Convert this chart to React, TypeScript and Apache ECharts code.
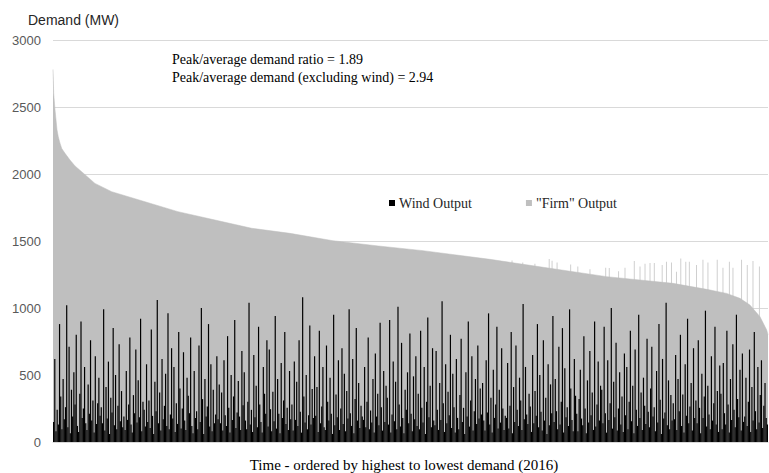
import React, { useEffect, useRef } from "react";
import * as echarts from "echarts";

// Total demand (MW): [percent of hours, MW]
const demandCurve: [number, number][] = [
  [0, 2780], [0.1, 2600], [0.28, 2480], [0.56, 2330], [0.74, 2278], [0.98, 2230],
  [1.22, 2191], [1.68, 2154], [2.38, 2104], [3.08, 2060],
  [4.01, 2017], [5.87, 1930], [8.21, 1868], [12.87, 1793], [17.48, 1719],
  [22.2, 1662], [27.79, 1595], [33.15, 1557], [39.16, 1502], [45.5, 1463], [51.75, 1428],
  [61.12, 1363], [68.8, 1302], [77.44, 1234], [86.71, 1184], [91.43, 1139],
  [94.22, 1109], [96.08, 1072], [97.48, 1022], [98.88, 935], [99.82, 836], [100, 800],
];

// Isolated "firm" hours that stand above the sorted curve: [percent of hours, MW]
const firmSpikes: [number, number][] = [
  [64.2, 1355], [65.7, 1340], [67.4, 1330], [69.4, 1365], [69.8, 1352], [70.5, 1340],
  [72.4, 1325], [73.4, 1310], [75.1, 1290], [77.3, 1300], [77.8, 1298], [79.1, 1275],
  [80.0, 1300], [81.3, 1350], [82.1, 1310], [82.8, 1330], [83.5, 1335], [84.1, 1335],
  [85.2, 1320], [85.8, 1345], [86.5, 1340], [87.2, 1270], [87.8, 1370], [88.5, 1345],
  [89.0, 1345], [90.0, 1320], [90.9, 1360], [91.6, 1340], [92.9, 1360], [93.7, 1300],
  [94.6, 1345], [95.1, 1300], [96.3, 1360], [97.1, 1320], [97.9, 1350], [98.8, 1310],
];

// Wind output (MW) per sampled hour, in order of decreasing demand
const windOutput: number[] = [
  150, 620, 80, 240, 130, 880, 340, 95, 470, 170, 260, 1020, 110, 710, 65, 390, 190, 520, 280, 800,
  120, 75, 360, 900, 180, 250, 560, 140, 90, 430, 210, 760, 160, 310, 70, 640, 135, 290, 480, 195,
  260, 140, 990, 85, 410, 175, 600, 60, 330, 220, 850, 125, 500, 95, 270, 730, 155, 380, 110, 190,
  90, 530, 165, 280, 780, 130, 70, 350, 215, 690, 145, 460, 185, 920, 80, 300, 240, 115, 580, 150,
  310, 105, 840, 195, 60, 450, 230, 1060, 140, 370, 85, 620, 170, 270, 510, 120, 960, 95, 205, 700,
  175, 560, 75, 290, 135, 820, 400, 100, 250, 670, 160, 90, 480, 345, 215, 780, 120, 65, 530, 180,
  230, 95, 720, 150, 1000, 320, 60, 470, 190, 265, 880, 115, 580, 80, 390, 140, 205, 640, 170, 430,
  140, 370, 85, 610, 200, 120, 790, 255, 70, 500, 165, 340, 910, 105, 220, 455, 190, 90, 680, 275,
  520, 160, 95, 300, 1040, 130, 240, 75, 650, 185, 420, 110, 860, 280, 150, 70, 560, 360, 210, 760,
  115, 690, 245, 80, 375, 155, 940, 100, 470, 210, 65, 590, 180, 310, 820, 135, 255, 90, 530, 170,
  280, 85, 600, 165, 450, 120, 760, 225, 70, 1080, 340, 145, 500, 95, 200, 870, 130, 395, 180, 640,
  195, 410, 75, 830, 140, 265, 560, 110, 90, 720, 300, 160, 480, 210, 60, 950, 125, 355, 185, 610,
  90, 250, 700, 135, 510, 80, 380, 175, 990, 215, 120, 620, 65, 320, 850, 160, 440, 105, 270, 190,
  165, 560, 110, 300, 780, 95, 235, 145, 470, 70, 660, 190, 360, 125, 890, 260, 85, 530, 150, 420,
  330, 130, 910, 70, 205, 600, 155, 450, 95, 1010, 280, 115, 740, 180, 65, 390, 240, 520, 140, 810,
  210, 80, 490, 170, 640, 120, 360, 95, 830, 255, 145, 560, 60, 300, 930, 185, 420, 110, 700, 160,
  125, 680, 240, 90, 440, 165, 1050, 290, 75, 580, 140, 375, 200, 800, 105, 510, 260, 70, 620, 180,
  95, 350, 770, 150, 255, 60, 520, 190, 900, 115, 310, 640, 85, 230, 470, 135, 720, 175, 400, 205,
  440, 160, 85, 610, 220, 960, 130, 330, 70, 540, 180, 280, 860, 100, 390, 145, 700, 250, 90, 195,
  180, 590, 100, 270, 820, 65, 410, 150, 720, 240, 120, 480, 310, 90, 1030, 170, 560, 205, 135, 360,
  265, 75, 650, 140, 380, 195, 880, 110, 500, 225, 85, 760, 160, 330, 60, 580, 125, 430, 215, 940,
  150, 470, 230, 95, 710, 130, 300, 850, 70, 550, 185, 260, 120, 990, 400, 165, 80, 620, 345, 210,
  80, 320, 540, 175, 125, 790, 250, 65, 460, 145, 680, 200, 370, 90, 900, 115, 280, 600, 160, 420,
  390, 140, 860, 215, 70, 610, 165, 290, 1000, 100, 450, 185, 740, 85, 250, 520, 130, 340, 75, 660,
  200, 560, 95, 300, 830, 155, 420, 65, 690, 240, 120, 950, 180, 370, 90, 480, 270, 135, 770, 225,
  110, 400, 710, 190, 260, 80, 530, 145, 880, 315, 60, 620, 175, 220, 1040, 125, 460, 95, 350, 160,
  290, 170, 650, 90, 470, 230, 800, 120, 355, 70, 580, 195, 920, 140, 265, 440, 85, 700, 180, 310,
  140, 760, 255, 65, 510, 180, 340, 980, 115, 420, 205, 95, 640, 160, 290, 860, 130, 380, 75, 570,
  360, 95, 590, 215, 130, 830, 280, 70, 470, 165, 730, 240, 110, 950, 320, 185, 540, 85, 660, 150,
  190, 480, 120, 300, 690, 75, 410, 160, 820, 230, 95, 560, 145, 350, 610, 105, 270, 440, 180, 130,
];

const hourIndex: string[] = windOutput.map((_, i) => String(i + 1));

const yTicks = { min: 0, max: 3000, interval: 500 };

const annotations: string[] = [
  "Peak/average demand ratio = 1.89",
  "Peak/average demand (excluding wind) = 2.94",
];

const WIND = "Wind Output";
const FIRM = '"Firm" Output';

export default function App() {
  const ref = useRef<HTMLDivElement>(null);

  useEffect(() => {
    document.body.style.margin = "0";
    if (!ref.current) return;
    const chart = echarts.init(ref.current, undefined, { renderer: "svg" });
    const serif = "'Liberation Serif', 'Times New Roman', serif";
    const sans = "'Liberation Sans', Arial, sans-serif";

    chart.setOption({
      animation: false,
      backgroundColor: "#ffffff",
      grid: { left: 53, right: 1, top: 40, bottom: 31, containLabel: false },
      legend: {
        left: 389,
        top: 196,
        padding: 0,
        icon: "rect",
        itemWidth: 6,
        itemHeight: 6,
        itemGap: 54,
        textStyle: { fontFamily: serif, fontSize: 14, color: "#262626", padding: [0, 0, 0, -1] },
        data: [
          { name: WIND, itemStyle: { color: "#000000" } },
          { name: FIRM, itemStyle: { color: "#bfbfbf" } },
        ],
      },
      xAxis: [
        {
          type: "category",
          data: hourIndex,
          boundaryGap: true,
          axisLine: { show: true, lineStyle: { color: "#d9d9d9" } },
          axisTick: { show: false },
          axisLabel: { show: false },
          splitLine: { show: false },
        },
        {
          type: "value",
          min: 0,
          max: 100,
          show: false,
        },
      ],
      yAxis: {
        type: "value",
        min: yTicks.min,
        max: yTicks.max,
        interval: yTicks.interval,
        axisLine: { show: false },
        axisTick: { show: false },
        axisLabel: {
          color: "#595959",
          fontSize: 13,
          fontFamily: sans,
          margin: 12,
          formatter: (v: number) => String(v),
        },
        splitLine: { lineStyle: { color: "#d9d9d9", width: 1 } },
      },
      series: [
        {
          name: "spikes",
          type: "bar",
          xAxisIndex: 1,
          data: firmSpikes,
          barWidth: 1,
          itemStyle: { color: "#cfcfcf" },
          z: 1,
          silent: true,
        },
        {
          name: FIRM,
          type: "line",
          xAxisIndex: 1,
          data: demandCurve,
          showSymbol: false,
          symbol: "none",
          lineStyle: { width: 0.5, color: "#bfbfbf" },
          itemStyle: { color: "#bfbfbf" },
          areaStyle: { color: "#bfbfbf", opacity: 1 },
          z: 2,
        },
        {
          name: WIND,
          type: "bar",
          xAxisIndex: 0,
          data: windOutput,
          barWidth: "100%",
          barCategoryGap: "0%",
          itemStyle: { color: "#000000" },
          z: 3,
        },
      ],
      graphic: [
        {
          type: "text",
          left: 28,
          top: 13,
          style: { text: "Demand (MW)", fontFamily: sans, fontSize: 14, fill: "#262626" },
        },
        {
          type: "text",
          left: 172,
          top: 52,
          style: { text: annotations[0], fontFamily: serif, fontSize: 14, fill: "#000000" },
        },
        {
          type: "text",
          left: 172,
          top: 70,
          style: { text: annotations[1], fontFamily: serif, fontSize: 14, fill: "#000000" },
        },
        {
          type: "text",
          x: 404,
          y: 465,
          style: {
            text: "Time - ordered by highest to lowest demand (2016)",
            fontFamily: serif,
            fontSize: 15,
            fill: "#000000",
            align: "center",
            verticalAlign: "middle",
          },
        },
      ],
    });

    return () => chart.dispose();
  }, []);

  return <div ref={ref} style={{ width: 769, height: 473 }} />;
}
